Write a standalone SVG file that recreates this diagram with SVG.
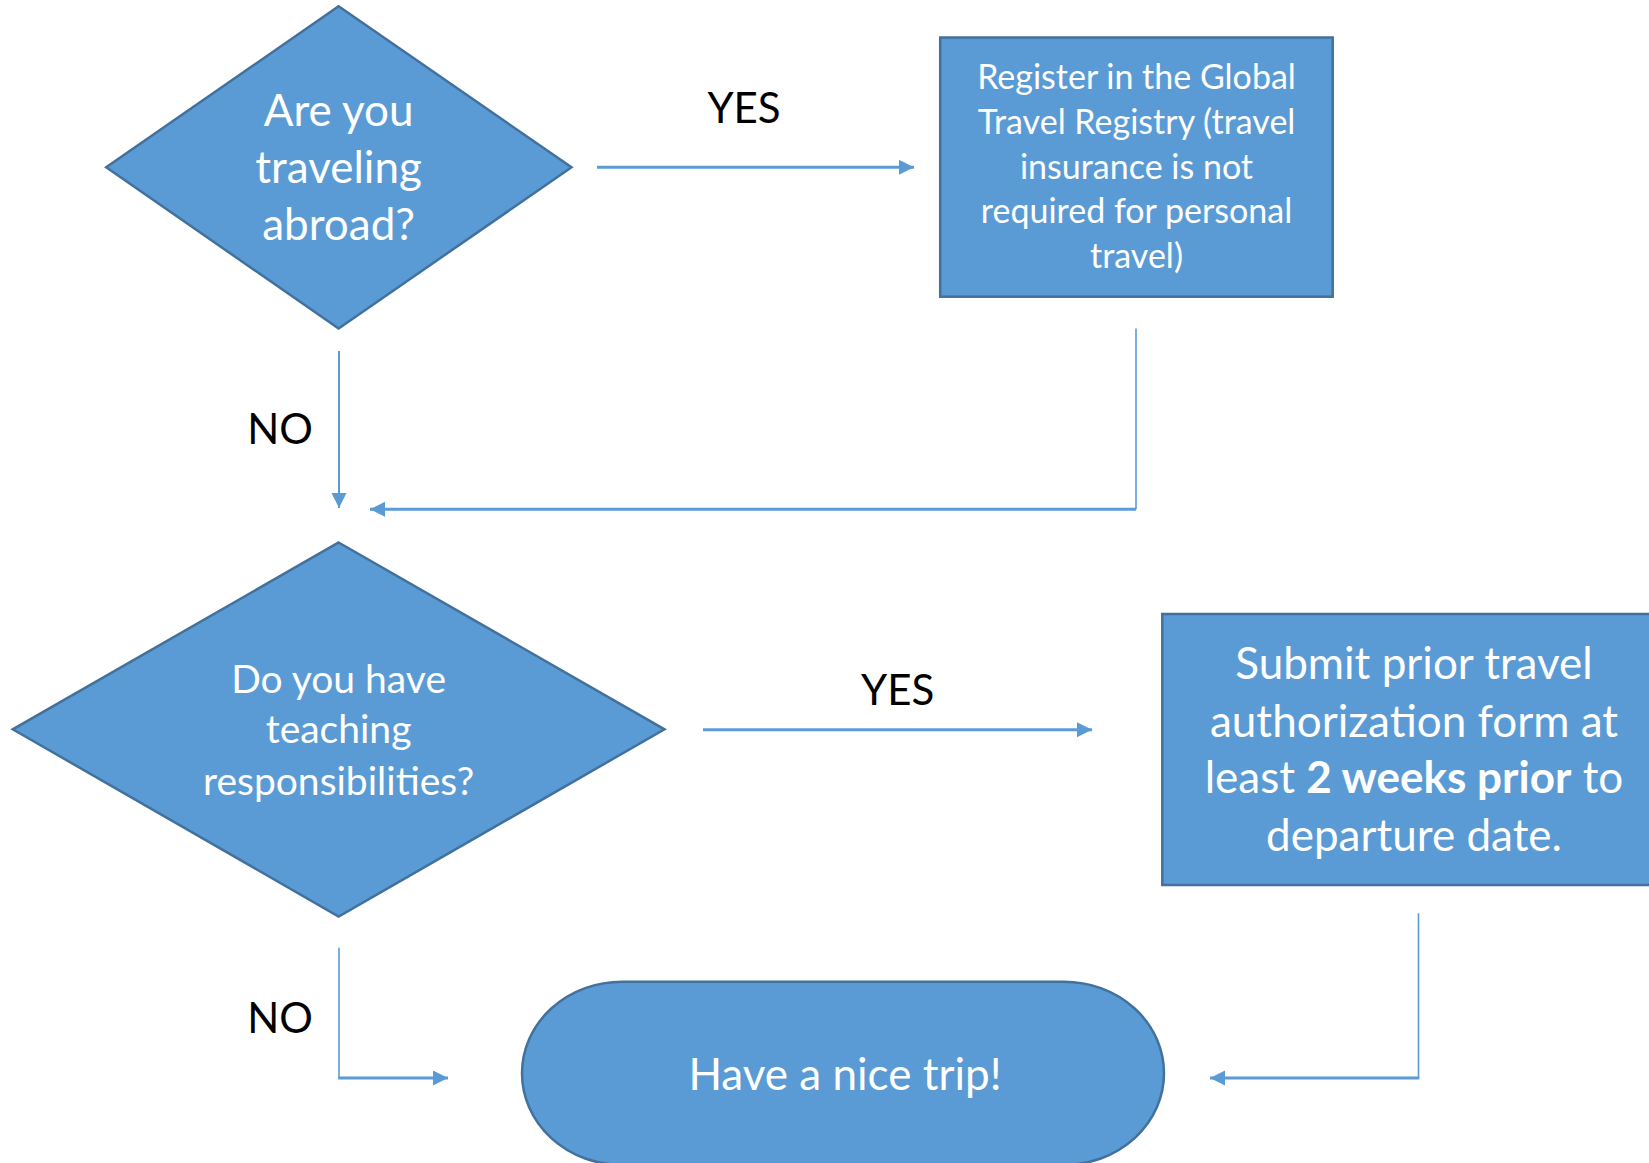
<svg xmlns="http://www.w3.org/2000/svg" width="1649" height="1163" viewBox="0 0 1649 1163">
<style>
.shape{fill:#5B9BD5;stroke:#41719C;stroke-width:2.5}
.nt{fill:#FFFFFF;font-family:Lato,"Open Sans",sans-serif;text-anchor:middle}
.lbl{fill:#000000;font-family:Lato,"Open Sans",sans-serif;font-size:42px;text-anchor:middle}
.c{fill:none;stroke:#5B9BD5}
.thick{stroke-width:3}
.thin{stroke-width:1.6}
</style>
<defs>
<marker id="ah" markerUnits="userSpaceOnUse" markerWidth="16" markerHeight="16" refX="15" refY="7.5" orient="auto">
<path d="M0,0 L15,7.5 L0,15 Z" fill="#5B9BD5"/>
</marker>
</defs>
<rect width="1649" height="1163" fill="#FFFFFF"/>
<g id="connectors">
<line class="c thick" x1="597" y1="167.3" x2="914" y2="167.3" marker-end="url(#ah)"/>
<line class="c" stroke-width="2" x1="339" y1="351" x2="339" y2="508" marker-end="url(#ah)"/>
<polyline class="c" points="1136,328.5 1136,509.3" stroke-width="1.6"/>
<line class="c thick" x1="1136" y1="509.3" x2="370" y2="509.3" marker-end="url(#ah)"/>
<line class="c thick" x1="703" y1="729.7" x2="1092" y2="729.7" marker-end="url(#ah)"/>
<line class="c thin" x1="339" y1="947.7" x2="339" y2="1078"/>
<line class="c thick" x1="338.2" y1="1078" x2="448" y2="1078" marker-end="url(#ah)"/>
<line class="c thin" x1="1418.5" y1="913.3" x2="1418.5" y2="1078"/>
<line class="c thick" x1="1419.3" y1="1078" x2="1210" y2="1078" marker-end="url(#ah)"/>
<text class="lbl" x="744" y="122.7">YES</text>
<text class="lbl" x="280" y="444">NO</text>
<text class="lbl" x="897.6" y="705">YES</text>
<text class="lbl" x="280" y="1033.3">NO</text>
</g>
<g id="q1">
<polygon class="shape" points="338.6,6.3 571.5,167.3 338.6,328.5 106.2,167.3"/>
<text class="nt" font-size="44" x="338.6" y="126">Are you</text>
<text class="nt" font-size="44" x="338.6" y="183">traveling</text>
<text class="nt" font-size="44" x="338.6" y="240">abroad?</text>
</g>
<g id="register">
<rect class="shape" x="940.2" y="37.5" width="392.5" height="259.2"/>
<text class="nt" font-size="34" x="1136.5" y="89.3">Register in the Global</text>
<text class="nt" font-size="34" x="1136.5" y="134.3">Travel Registry (travel</text>
<text class="nt" font-size="34" x="1136.5" y="179.3">insurance is not</text>
<text class="nt" font-size="34" x="1136.5" y="223.3">required for personal</text>
<text class="nt" font-size="34" x="1136.5" y="268.3">travel)</text>
</g>
<g id="q2">
<polygon class="shape" points="338.6,542.5 664.5,729.3 338.6,916.5 12.8,729.3"/>
<text class="nt" font-size="39" x="338.6" y="692.7">Do you have</text>
<text class="nt" font-size="39" x="338.6" y="743.3">teaching</text>
<text class="nt" font-size="39" x="338.6" y="795">responsibilities?</text>
</g>
<g id="submit">
<rect class="shape" x="1162.3" y="614" width="505" height="271"/>
<text class="nt" font-size="44" x="1414" y="679.3">Submit prior travel</text>
<text class="nt" font-size="44" x="1414" y="736.7">authorization form at</text>
<text class="nt" font-size="44" x="1414" y="793.3">least <tspan font-weight="bold">2 weeks prior</tspan> to</text>
<text class="nt" font-size="44" x="1414" y="850.7">departure date.</text>
</g>
<g id="trip">
<path class="shape" d="M622,981.7 H1064 A100,91.6 0 0 1 1064,1164.9 H622 A100,91.6 0 0 1 622,981.7 Z"/>
<text class="nt" font-size="44" x="845" y="1090">Have a nice trip!</text>
</g>
</svg>
